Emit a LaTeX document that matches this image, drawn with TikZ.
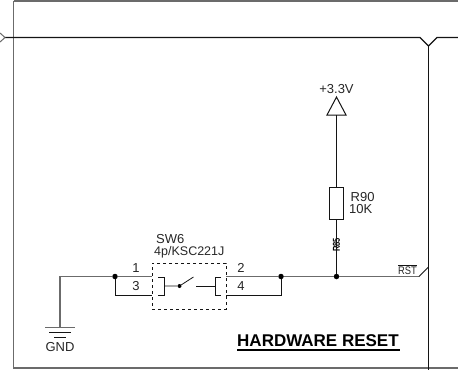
\documentclass[tikz,border=0pt]{standalone}
\usepackage{fontspec}
\setmainfont{Liberation Sans}
\definecolor{wiregray}{gray}{0.42}
\definecolor{inkline}{gray}{0.08}
\tikzset{
  x=1pt,y=-1pt,
  wire/.style={line width=1.1pt,draw=wiregray},
  thin wire/.style={line width=1pt,draw=inkline},
  frame line/.style={line width=1.1pt,draw=inkline},
  part/.style={line width=0.8pt,draw=inkline},
  dot/.style={circle,fill=black,inner sep=0pt,minimum size=5.5pt},
  lbl/.style={inner sep=0pt,font=\fontsize{13}{14}\selectfont,text=black!85},
  lblw/.style={lbl,anchor=west},
}
\begin{document}
\begin{tikzpicture}
\useasboundingbox (0,0) rectangle (458,370);
% sheet frame
\coordinate (fTR) at (458,1); \coordinate (fBL) at (13.5,368); \coordinate (fBR) at (458,368);
\draw[line width=1.1pt,draw=wiregray] (13.5,1) -- (fTR);
\draw[line width=1.1pt,draw=wiregray] (13.5,1) -- (fBL) -- (fBR);
\draw[frame line] (5,37.5) -- (420,37.5) -- (428.5,46) -- (437,37.5) -- (458,37.5);
\draw[frame line] (428.5,46) -- (428.5,370);
\draw[line width=1pt,draw=wiregray] (0,33) -- (5,37.5) -- (0,42);
% junctions and switch
\node[dot] (jL) at (115,276.5) {};
\node[dot] (jR) at (281,276.5) {};
\node[dot] (jT) at (336.5,276.5) {};
\node[draw=inkline,dashed,line width=0.8pt,minimum width=74pt,minimum height=46pt,inner sep=0pt] (sw) at (189,286) {};
\coordinate (swL1) at (sw.west |- 0,276.5);
\coordinate (swL3) at (sw.west |- 0,295);
\coordinate (swR2) at (sw.east |- 0,276.5);
\coordinate (swR4) at (sw.east |- 0,295);
\coordinate (gndTop) at (60,327.5);
\coordinate (rst) at (419,276.5);
\coordinate (rstEnd) at (428.5,267);
\draw[wire] (gndTop) -- (60,276.5) -- (jL) -- (swL1);
\draw[thin wire] (jL) -- (115,295) -- (swL3);
\draw[wire] (swR2) -- (jR) -- (jT) -- (rst);
\draw[thin wire] (swR4) -- (281,295) -- (jR);
\draw[thin wire] (rst) -- (rstEnd);
% switch internals
\draw[part] (158,277) -- (164,277) -- (164,295) -- (158,295);
\draw[part] (221,277) -- (215,277) -- (215,295) -- (221,295);
\node[circle,fill=black,inner sep=0pt,minimum size=4pt] (pivot) at (179.5,286) {};
\draw[part] (164,286) -- (pivot) -- (193.5,277);
\coordinate (cont) at (196,286);
\draw[part] (cont) -- (215,286);
% ground
\draw[line width=1pt,draw=wiregray] (45,327.5) -- (75,327.5);
\draw[part] (49,332) -- (71,332);
\draw[part] (54,337) -- (66,337);
\node[lbl] (gndL) at (60,347.5) {GND};
% resistor and supply
\node[inner sep=0pt,rotate=90,xscale=0.75,font=\fontsize{10}{10}\selectfont\bfseries,text=black] (dnp) at (336.5,245) {R85};
\node[draw=inkline,line width=1pt,minimum width=14.5pt,minimum height=32.5pt,inner sep=0pt] (R) at (336.5,203.3) {};
\coordinate (vccBase) at (336.5,115);
\draw[line width=1pt,draw=inkline] (327,115) -- (336.5,97) -- (346,115) -- cycle;
\draw[thin wire] (vccBase) -- (R.north);
\draw[thin wire] (R.south) -- (jT);
\node[lbl] (vcc) at (336.5,89.5) {+3.3V};
\node[lblw] (r1) at (350.5,197) {R90};
\node[lblw] (r2) at (349,209) {10K};
% labels
\node[lbl] (p1) at (136,268) {1};
\node[lbl] (p3) at (136,286) {3};
\node[lbl] (p2) at (241,268) {2};
\node[lbl] (p4) at (241,286) {4};
\node[lblw] (s1) at (156,239.5) {SW6};
\node[lblw,font=\fontsize{12.5}{13}\selectfont] (s2) at (154,252.5) {4p/KSC221J};
\node[lblw,font=\fontsize{11}{11}\selectfont,xscale=0.85] (rl) at (398,271) {RST};
\coordinate (ovA) at (398,265.5); \coordinate (ovB) at (417,265.5);
\draw[line width=0.8pt,draw=inkline] (ovA) -- (ovB);
\node[anchor=west,inner sep=0pt,font=\fontsize{17}{18}\selectfont\bfseries,text=black] (title) at (237,341) {HARDWARE RESET};
\coordinate (ulA) at (237,350); \coordinate (ulB) at (400,350);
\draw[line width=1.3pt,black] (ulA) -- (ulB);
\end{tikzpicture}
\end{document}
